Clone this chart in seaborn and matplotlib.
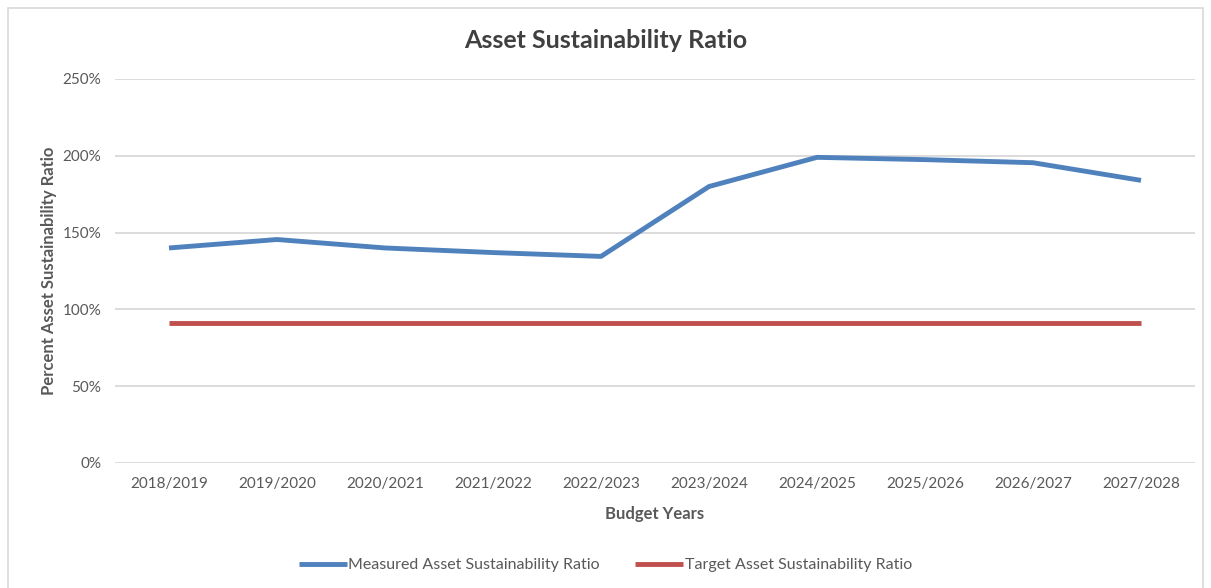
import matplotlib
matplotlib.use("Agg")
import matplotlib.pyplot as plt
import matplotlib.patches as mpatches
from matplotlib.ticker import FuncFormatter
import pandas as pd
import seaborn as sns

# Budget years and ratio values (percent)
years = ["2018/2019", "2019/2020", "2020/2021", "2021/2022", "2022/2023",
         "2023/2024", "2024/2025", "2025/2026", "2026/2027", "2027/2028"]
measured = [140, 145.5, 140, 137, 134.5, 180, 199, 197.5, 195.5, 184]
target = [91, 91, 91, 91, 91, 91, 91, 91, 91, 91]
series_names = ["Measured Asset Sustainability Ratio", "Target Asset Sustainability Ratio"]
y_ticks = [0, 50, 100, 150, 200, 250]

df = pd.concat([
    pd.DataFrame({"year": years, "value": measured, "series": series_names[0]}),
    pd.DataFrame({"year": years, "value": target, "series": series_names[1]}),
])
df["pos"] = df["year"].map({y: i for i, y in enumerate(years)})

sns.set_theme(style="white")
plt.rcParams["font.family"] = ["Lato", "DejaVu Sans"]

text_gray = "#595959"
fig = plt.figure(figsize=(12.11, 5.88), dpi=100)
ax = fig.add_axes([115 / 1211, 1 - 463 / 588, 1080 / 1211, 384 / 588])

# Outer chart frame
fig.patches.append(mpatches.Rectangle((8 / 1211, -0.05), 1195 / 1211, 1 - 8 / 588 + 0.05,
                                      transform=fig.transFigure, fill=False,
                                      edgecolor="#d9d9d9", linewidth=1.2))

sns.lineplot(data=df, x="pos", y="value", hue="series",
             palette=["#4F81BD", "#C0504D"], linewidth=3.5, ax=ax,
             legend=True, solid_capstyle="butt")

ax.set_xlim(-0.5, len(years) - 0.5)
ax.set_ylim(0, 250)
ax.set_xticks(range(len(years)))
ax.set_xticklabels(years)
ax.set_yticks(y_ticks)
ax.yaxis.set_major_formatter(FuncFormatter(lambda v, _: f"{int(v)}%"))
ax.tick_params(axis="both", colors=text_gray, labelsize=11, length=0)
ax.tick_params(axis="x", pad=10)
ax.tick_params(axis="y", pad=10)
ax.grid(axis="y", color="#d9d9d9", linewidth=1.3)
ax.set_axisbelow(True)
for s in ax.spines.values():
    s.set_visible(False)

ax.set_xlabel("Budget Years", fontsize=12, fontweight="bold", color=text_gray, labelpad=11)
ax.set_ylabel("Percent Asset Sustainability Ratio", fontsize=12, fontweight="bold",
              color=text_gray, labelpad=4)
fig.text(0.5, 1 - 40 / 588, "Asset Sustainability Ratio", ha="center", va="center",
         fontsize=18, fontweight="bold", color="#404040")

handles, labels = ax.get_legend_handles_labels()
ax.legend_.remove()
fig.legend(handles, labels, loc="center", bbox_to_anchor=(0.5, 1 - 565 / 588), ncol=2,
           frameon=False, fontsize=11.5, handlelength=3, handletextpad=0.1,
           columnspacing=2.2, labelcolor=text_gray)

fig.savefig("out.png", dpi=100)
